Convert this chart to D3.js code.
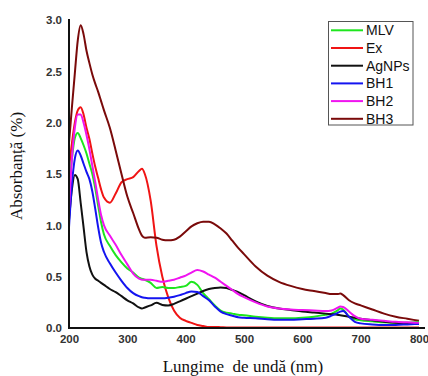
<!DOCTYPE html>
<html>
<head>
<meta charset="utf-8">
<script src="https://cdn.jsdelivr.net/npm/d3@7"></script>
<style>
  html, body { margin: 0; padding: 0; background: #fff; }
  svg { display: block; }
</style>
</head>
<body>
<svg id="chart" width="428" height="376"></svg>
<script>
// Wavelength grid (nm) shared by all spectra
const wavelengths = [200,205,210,215,220,225,230,235,240,245,250,255,260,270,280,290,300,310,320,325,330,340,350,360,370,380,390,400,410,420,430,440,450,460,470,480,490,500,520,540,560,580,600,620,640,650,660,665,670,680,690,700,720,740,760,780,800];

// Absorbance values for each sample
const mlv   = [1.35,1.65,1.85,1.90,1.85,1.78,1.70,1.60,1.50,1.36,1.19,1.03,0.91,0.80,0.71,0.64,0.58,0.54,0.49,0.48,0.47,0.44,0.39,0.40,0.39,0.39,0.40,0.41,0.45,0.42,0.34,0.28,0.22,0.17,0.15,0.14,0.13,0.125,0.11,0.10,0.095,0.095,0.10,0.11,0.13,0.14,0.17,0.19,0.18,0.11,0.085,0.075,0.065,0.055,0.05,0.05,0.06];
const ex    = [1.55,1.80,2.00,2.12,2.15,2.08,1.95,1.84,1.70,1.57,1.46,1.35,1.27,1.22,1.31,1.42,1.45,1.47,1.53,1.55,1.50,1.24,0.80,0.50,0.30,0.17,0.10,0.07,0.05,0.03,0.02,0.01,0.01,0.008,0.006,0.005,0.005,0.005,0.005,0.005,0.005,0.005,0.005,0.005,0.005,0.005,0.005,0.005,0.005,0.005,0.005,0.005,0.005,0.005,0.005,0.005,0.005];
const agnps = [1.05,1.35,1.49,1.45,1.22,0.98,0.74,0.60,0.52,0.48,0.46,0.44,0.42,0.38,0.35,0.31,0.27,0.24,0.20,0.19,0.20,0.22,0.245,0.225,0.22,0.235,0.26,0.285,0.31,0.335,0.36,0.38,0.39,0.395,0.39,0.37,0.35,0.32,0.26,0.215,0.19,0.175,0.16,0.15,0.14,0.135,0.13,0.125,0.12,0.11,0.10,0.09,0.075,0.06,0.05,0.045,0.04];
const bh1   = [0.98,1.40,1.65,1.73,1.68,1.60,1.52,1.45,1.33,1.16,0.98,0.83,0.74,0.63,0.54,0.46,0.39,0.34,0.31,0.30,0.295,0.29,0.29,0.29,0.295,0.305,0.32,0.34,0.355,0.35,0.31,0.27,0.21,0.16,0.135,0.12,0.105,0.10,0.095,0.085,0.08,0.08,0.085,0.09,0.10,0.12,0.145,0.16,0.165,0.11,0.06,0.045,0.035,0.03,0.03,0.035,0.04];
const bh2   = [1.15,1.65,1.95,2.08,2.08,2.00,1.88,1.74,1.58,1.42,1.25,1.10,1.00,0.90,0.81,0.71,0.62,0.53,0.48,0.47,0.47,0.47,0.46,0.45,0.46,0.47,0.49,0.51,0.54,0.565,0.55,0.52,0.49,0.45,0.41,0.37,0.33,0.30,0.25,0.21,0.19,0.18,0.175,0.17,0.165,0.17,0.195,0.21,0.205,0.16,0.115,0.09,0.08,0.07,0.06,0.055,0.05];
const bh3   = [1.80,2.15,2.48,2.80,2.95,2.86,2.70,2.58,2.47,2.38,2.30,2.21,2.12,1.95,1.73,1.50,1.28,1.12,0.96,0.90,0.88,0.885,0.88,0.86,0.855,0.86,0.89,0.94,0.99,1.02,1.035,1.035,1.01,0.97,0.92,0.85,0.78,0.72,0.60,0.51,0.45,0.41,0.38,0.36,0.34,0.33,0.33,0.335,0.32,0.27,0.24,0.22,0.18,0.14,0.11,0.09,0.07];

const seriesNames  = ["MLV","Ex","AgNPs","BH1","BH2","BH3"];
const seriesColors = ["#1ee61e","#f01414","#111111","#1414f0","#f014f0","#7a0a0a"];
const seriesValues = [mlv, ex, agnps, bh1, bh2, bh3];

// Axis ticks
const xTicks = [200,300,400,500,600,700,800];
const yTicks = [0,0.5,1.0,1.5,2.0,2.5,3.0];

const svg = d3.select("#chart");
const W = 428, H = 376;

const x = d3.scaleLinear().domain([200, 800]).range([69, 419]);
const y = d3.scaleLinear().domain([0, 3]).range([328, 20]);

// Spectra
const line = d3.line()
  .x(d => x(d[0]))
  .y(d => y(d[1]))
  .curve(d3.curveMonotoneX);

const drawOrder = [1, 5, 0, 2, 3, 4];
svg.append("g").selectAll("path")
  .data(drawOrder)
  .join("path")
  .attr("fill", "none")
  .attr("stroke", i => seriesColors[i])
  .attr("stroke-width", 2)
  .attr("stroke-linejoin", "round")
  .attr("d", i => line(wavelengths.map((w, k) => [w, seriesValues[i][k]])));

const tickFont = "'Liberation Sans', Arial, sans-serif";

// Y axis
const yAxis = svg.append("g")
  .attr("transform", `translate(${x(200)},0)`)
  .call(d3.axisLeft(y).tickValues(yTicks).tickFormat(d3.format(".1f")).tickSize(0).tickPadding(7));
yAxis.select(".domain").remove();
yAxis.selectAll("text")
  .attr("font-family", tickFont)
  .attr("font-size", 11.5).attr("font-weight", "bold").attr("fill", "#333");

// X axis
const xAxis = svg.append("g")
  .attr("transform", `translate(0,${y(0)})`)
  .call(d3.axisBottom(x).tickValues(xTicks).tickFormat(d3.format("d")).tickSize(0).tickPadding(7));
xAxis.select(".domain").remove();
xAxis.selectAll("text")
  .attr("font-family", tickFont)
  .attr("font-size", 11.5).attr("font-weight", "bold").attr("fill", "#333");

// Axis lines
svg.append("line")
  .attr("x1", x(200)).attr("x2", x(200))
  .attr("y1", y(3) - 1).attr("y2", y(0) + 1)
  .attr("stroke", "#111").attr("stroke-width", 2);
svg.append("line")
  .attr("x1", x(200) - 1).attr("x2", W - 3)
  .attr("y1", y(0)).attr("y2", y(0))
  .attr("stroke", "#111").attr("stroke-width", 2);

// Axis titles
svg.append("text")
  .attr("x", 243).attr("y", 372)
  .attr("text-anchor", "middle")
  .attr("font-family", "'Liberation Serif', 'Times New Roman', serif")
  .attr("font-size", 17).attr("fill", "#111")
  .attr("xml:space", "preserve")
  .text("Lungime  de undă (nm)");

svg.append("text")
  .attr("transform", "translate(22,166) rotate(-90)")
  .attr("text-anchor", "middle")
  .attr("font-family", "'Liberation Serif', 'Times New Roman', serif")
  .attr("font-size", 17).attr("fill", "#111")
  .text("Absorbanță (%)");

// Legend
const legend = svg.append("g");
legend.append("rect")
  .attr("x", 328.5).attr("y", 21.5).attr("width", 84.5).attr("height", 103.5)
  .attr("fill", "#fff").attr("stroke", "#555").attr("stroke-width", 1);

const item = legend.selectAll("g.item")
  .data(seriesNames)
  .join("g")
  .attr("class", "item")
  .attr("transform", (d, i) => `translate(0,${30.3 + i * 17.7})`);
item.append("line")
  .attr("x1", 331).attr("x2", 363)
  .attr("stroke", (d, i) => seriesColors[i])
  .attr("stroke-width", 2);
item.append("text")
  .attr("x", 366).attr("dy", "0.36em")
  .attr("font-family", "'Liberation Sans', Arial, sans-serif")
  .attr("font-size", 14).attr("fill", "#111")
  .text(d => d);
</script>
</body>
</html>
